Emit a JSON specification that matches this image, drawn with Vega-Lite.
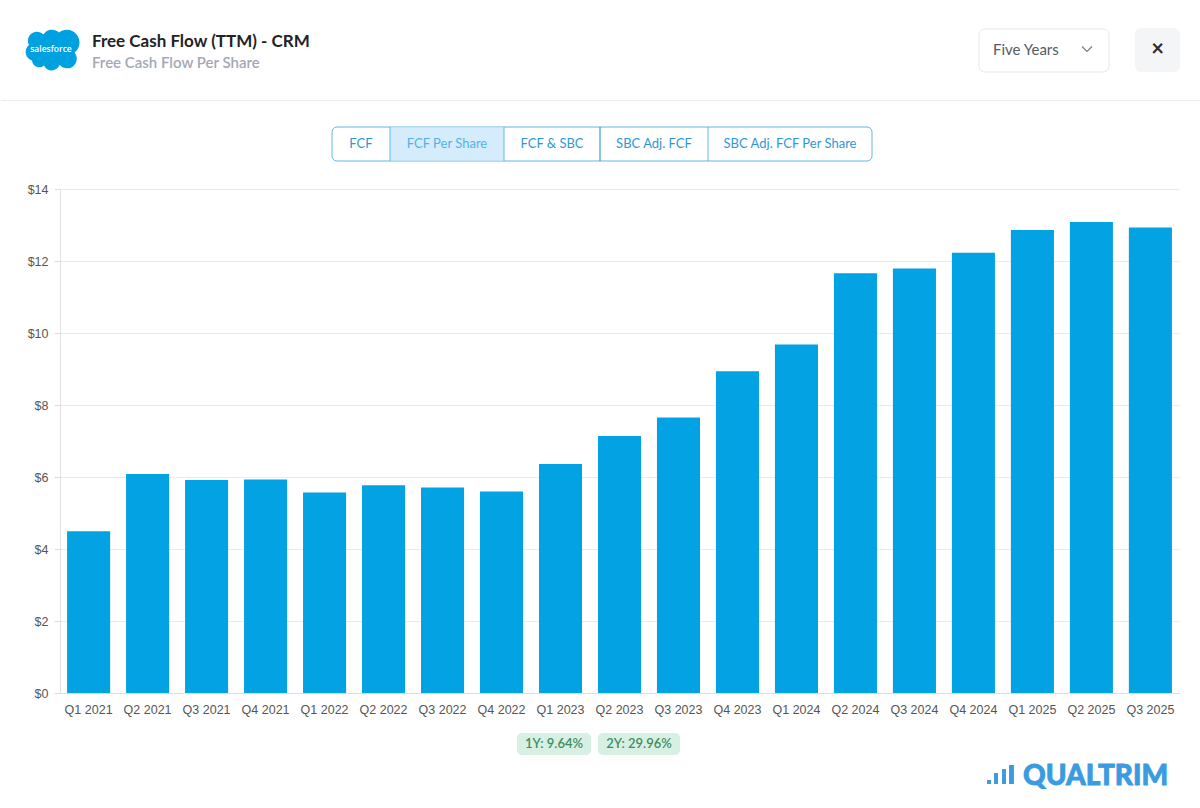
{
  "$schema": "https://vega.github.io/schema/vega-lite/v6.json",
  "width": 1119,
  "height": 504,
  "padding": 0,
  "background": "#ffffff",
  "config": {"view": {"stroke": null}},
  "layer": [
    {
      "data": {"values": [{"id": 1}]},
      "layer": [
        {"mark": {"type": "rect", "fill": "#ffffff", "opacity": 0},
         "encoding": {
           "x": {"datum": 0, "type": "quantitative", "scale": {"domain": [59, 1178], "nice": false, "zero": false}, "axis": null},
           "x2": {"datum": 1200},
           "y": {"datum": 0, "type": "quantitative", "scale": {"domain": [189, 693], "nice": false, "zero": false, "reverse": true}, "axis": null},
           "y2": {"datum": 808}}},
        {"mark": {"type": "rule", "stroke": "#ececec", "strokeWidth": 1},
         "encoding": {
           "x": {"datum": 0, "type": "quantitative", "scale": {"domain": [59, 1178], "nice": false, "zero": false}, "axis": null},
           "x2": {"datum": 1200},
           "y": {"datum": 100.5, "type": "quantitative", "scale": {"domain": [189, 693], "nice": false, "zero": false, "reverse": true}, "axis": null}}},
        {"mark": {"type": "point", "filled": true, "fill": "#00a1e0", "opacity": 1, "strokeWidth": 0, "size": 3600,
                  "shape": "M -0.6 0.42 A 0.3 0.3 0 0 1 -0.7 -0.1 A 0.3 0.3 0 0 1 -0.22 -0.45 A 0.34 0.34 0 0 1 0.3 -0.52 A 0.42 0.42 0 0 1 0.82 0.15 A 0.32 0.32 0 0 1 0.32 0.56 A 0.28 0.28 0 0 1 -0.2 0.58 A 0.24 0.24 0 0 1 -0.6 0.42 Z"},
         "encoding": {
           "x": {"datum": 49, "type": "quantitative", "scale": {"domain": [59, 1178], "nice": false, "zero": false}, "axis": null},
           "y": {"datum": 48, "type": "quantitative", "scale": {"domain": [189, 693], "nice": false, "zero": false, "reverse": true}, "axis": null}}},
        {"mark": {"type": "text", "text": "salesforce", "font": "Open Sans", "fontSize": 8.5, "fontWeight": 600, "fill": "#ffffff", "align": "center", "baseline": "middle"},
         "encoding": {
           "x": {"datum": 50, "type": "quantitative", "scale": {"domain": [59, 1178], "nice": false, "zero": false}, "axis": null},
           "y": {"datum": 49, "type": "quantitative", "scale": {"domain": [189, 693], "nice": false, "zero": false, "reverse": true}, "axis": null}}},
        {"mark": {"type": "text", "text": "Free Cash Flow (TTM) - CRM", "font": "Lato", "fontSize": 17, "fontWeight": "bold", "fill": "#1f2328", "align": "left", "baseline": "middle"},
         "encoding": {
           "x": {"datum": 91, "type": "quantitative", "scale": {"domain": [59, 1178], "nice": false, "zero": false}, "axis": null},
           "y": {"datum": 42, "type": "quantitative", "scale": {"domain": [189, 693], "nice": false, "zero": false, "reverse": true}, "axis": null}}},
        {"mark": {"type": "text", "text": "Free Cash Flow Per Share", "font": "Lato", "fontSize": 15, "fontWeight": 600, "fill": "#a3a9b4", "align": "left", "baseline": "middle"},
         "encoding": {
           "x": {"datum": 91, "type": "quantitative", "scale": {"domain": [59, 1178], "nice": false, "zero": false}, "axis": null},
           "y": {"datum": 63, "type": "quantitative", "scale": {"domain": [189, 693], "nice": false, "zero": false, "reverse": true}, "axis": null}}},
        {"mark": {"type": "rect", "fill": "#ffffff", "stroke": "#e4e7eb", "strokeWidth": 1, "cornerRadius": 6},
         "encoding": {
           "x": {"datum": 978, "type": "quantitative", "scale": {"domain": [59, 1178], "nice": false, "zero": false}, "axis": null},
           "x2": {"datum": 1108},
           "y": {"datum": 29, "type": "quantitative", "scale": {"domain": [189, 693], "nice": false, "zero": false, "reverse": true}, "axis": null},
           "y2": {"datum": 72}}},
        {"mark": {"type": "text", "text": "Five Years", "font": "Lato", "fontSize": 15, "fill": "#555b63", "align": "left", "baseline": "middle"},
         "encoding": {
           "x": {"datum": 992, "type": "quantitative", "scale": {"domain": [59, 1178], "nice": false, "zero": false}, "axis": null},
           "y": {"datum": 50, "type": "quantitative", "scale": {"domain": [189, 693], "nice": false, "zero": false, "reverse": true}, "axis": null}}},
        {"mark": {"type": "point", "filled": false, "stroke": "#7a7f86", "strokeWidth": 1.2, "opacity": 1, "size": 100, "shape": "M -1 -0.5 L 0 0.5 L 1 -0.5"},
         "encoding": {
           "x": {"datum": 1086, "type": "quantitative", "scale": {"domain": [59, 1178], "nice": false, "zero": false}, "axis": null},
           "y": {"datum": 49, "type": "quantitative", "scale": {"domain": [189, 693], "nice": false, "zero": false, "reverse": true}, "axis": null}}},
        {"mark": {"type": "rect", "fill": "#f4f5f7", "cornerRadius": 6},
         "encoding": {
           "x": {"datum": 1134, "type": "quantitative", "scale": {"domain": [59, 1178], "nice": false, "zero": false}, "axis": null},
           "x2": {"datum": 1179},
           "y": {"datum": 28, "type": "quantitative", "scale": {"domain": [189, 693], "nice": false, "zero": false, "reverse": true}, "axis": null},
           "y2": {"datum": 72}}},
        {"mark": {"type": "text", "text": "×", "font": "Lato", "fontSize": 22, "fontWeight": "bold", "fill": "#2a2d31", "align": "center", "baseline": "middle"},
         "encoding": {
           "x": {"datum": 1156.5, "type": "quantitative", "scale": {"domain": [59, 1178], "nice": false, "zero": false}, "axis": null},
           "y": {"datum": 49, "type": "quantitative", "scale": {"domain": [189, 693], "nice": false, "zero": false, "reverse": true}, "axis": null}}},
        {"mark": {"type": "rect", "fill": "#ffffff", "stroke": "#62b6e7", "strokeWidth": 1, "cornerRadius": 5},
         "encoding": {
           "x": {"datum": 331, "type": "quantitative", "scale": {"domain": [59, 1178], "nice": false, "zero": false}, "axis": null},
           "x2": {"datum": 871},
           "y": {"datum": 127, "type": "quantitative", "scale": {"domain": [189, 693], "nice": false, "zero": false, "reverse": true}, "axis": null},
           "y2": {"datum": 161}}},
        {"mark": {"type": "rect", "fill": "#d4ecfb"},
         "encoding": {
           "x": {"datum": 389, "type": "quantitative", "scale": {"domain": [59, 1178], "nice": false, "zero": false}, "axis": null},
           "x2": {"datum": 503},
           "y": {"datum": 127.5, "type": "quantitative", "scale": {"domain": [189, 693], "nice": false, "zero": false, "reverse": true}, "axis": null},
           "y2": {"datum": 160.5}}},
        {"mark": {"type": "rule", "stroke": "#62b6e7", "strokeWidth": 1},
         "encoding": {
           "x": {"datum": 389, "type": "quantitative", "scale": {"domain": [59, 1178], "nice": false, "zero": false}, "axis": null},
           "y": {"datum": 127, "type": "quantitative", "scale": {"domain": [189, 693], "nice": false, "zero": false, "reverse": true}, "axis": null},
           "y2": {"datum": 161}}},
        {"mark": {"type": "rule", "stroke": "#62b6e7", "strokeWidth": 1},
         "encoding": {
           "x": {"datum": 503, "type": "quantitative", "scale": {"domain": [59, 1178], "nice": false, "zero": false}, "axis": null},
           "y": {"datum": 127, "type": "quantitative", "scale": {"domain": [189, 693], "nice": false, "zero": false, "reverse": true}, "axis": null},
           "y2": {"datum": 161}}},
        {"mark": {"type": "rule", "stroke": "#3a9fdc", "strokeWidth": 1.2},
         "encoding": {
           "x": {"datum": 599, "type": "quantitative", "scale": {"domain": [59, 1178], "nice": false, "zero": false}, "axis": null},
           "y": {"datum": 127, "type": "quantitative", "scale": {"domain": [189, 693], "nice": false, "zero": false, "reverse": true}, "axis": null},
           "y2": {"datum": 161}}},
        {"mark": {"type": "rule", "stroke": "#62b6e7", "strokeWidth": 1},
         "encoding": {
           "x": {"datum": 707, "type": "quantitative", "scale": {"domain": [59, 1178], "nice": false, "zero": false}, "axis": null},
           "y": {"datum": 127, "type": "quantitative", "scale": {"domain": [189, 693], "nice": false, "zero": false, "reverse": true}, "axis": null},
           "y2": {"datum": 161}}},
        {"mark": {"type": "text", "text": "FCF", "font": "Lato", "fontSize": 13, "fill": "#2e98d6", "align": "center", "baseline": "middle"},
         "encoding": {
           "x": {"datum": 360, "type": "quantitative", "scale": {"domain": [59, 1178], "nice": false, "zero": false}, "axis": null},
           "y": {"datum": 144, "type": "quantitative", "scale": {"domain": [189, 693], "nice": false, "zero": false, "reverse": true}, "axis": null}}},
        {"mark": {"type": "text", "text": "FCF Per Share", "font": "Lato", "fontSize": 13, "fill": "#55b2e6", "align": "center", "baseline": "middle"},
         "encoding": {
           "x": {"datum": 446, "type": "quantitative", "scale": {"domain": [59, 1178], "nice": false, "zero": false}, "axis": null},
           "y": {"datum": 144, "type": "quantitative", "scale": {"domain": [189, 693], "nice": false, "zero": false, "reverse": true}, "axis": null}}},
        {"mark": {"type": "text", "text": "FCF & SBC", "font": "Lato", "fontSize": 13, "fill": "#2e98d6", "align": "center", "baseline": "middle"},
         "encoding": {
           "x": {"datum": 551, "type": "quantitative", "scale": {"domain": [59, 1178], "nice": false, "zero": false}, "axis": null},
           "y": {"datum": 144, "type": "quantitative", "scale": {"domain": [189, 693], "nice": false, "zero": false, "reverse": true}, "axis": null}}},
        {"mark": {"type": "text", "text": "SBC Adj. FCF", "font": "Lato", "fontSize": 13, "fill": "#2e98d6", "align": "center", "baseline": "middle"},
         "encoding": {
           "x": {"datum": 653, "type": "quantitative", "scale": {"domain": [59, 1178], "nice": false, "zero": false}, "axis": null},
           "y": {"datum": 144, "type": "quantitative", "scale": {"domain": [189, 693], "nice": false, "zero": false, "reverse": true}, "axis": null}}},
        {"mark": {"type": "text", "text": "SBC Adj. FCF Per Share", "font": "Lato", "fontSize": 13, "fill": "#2e98d6", "align": "center", "baseline": "middle"},
         "encoding": {
           "x": {"datum": 789, "type": "quantitative", "scale": {"domain": [59, 1178], "nice": false, "zero": false}, "axis": null},
           "y": {"datum": 144, "type": "quantitative", "scale": {"domain": [189, 693], "nice": false, "zero": false, "reverse": true}, "axis": null}}},
        {"mark": {"type": "rect", "fill": "#d8f0e3", "cornerRadius": 5},
         "encoding": {
           "x": {"datum": 516, "type": "quantitative", "scale": {"domain": [59, 1178], "nice": false, "zero": false}, "axis": null},
           "x2": {"datum": 590},
           "y": {"datum": 733, "type": "quantitative", "scale": {"domain": [189, 693], "nice": false, "zero": false, "reverse": true}, "axis": null},
           "y2": {"datum": 755}}},
        {"mark": {"type": "rect", "fill": "#d8f0e3", "cornerRadius": 5},
         "encoding": {
           "x": {"datum": 597, "type": "quantitative", "scale": {"domain": [59, 1178], "nice": false, "zero": false}, "axis": null},
           "x2": {"datum": 679},
           "y": {"datum": 733, "type": "quantitative", "scale": {"domain": [189, 693], "nice": false, "zero": false, "reverse": true}, "axis": null},
           "y2": {"datum": 755}}},
        {"mark": {"type": "text", "text": "1Y: 9.64%", "font": "Lato", "fontSize": 13, "fontWeight": 600, "fill": "#3d8d60", "align": "center", "baseline": "middle"},
         "encoding": {
           "x": {"datum": 553, "type": "quantitative", "scale": {"domain": [59, 1178], "nice": false, "zero": false}, "axis": null},
           "y": {"datum": 744, "type": "quantitative", "scale": {"domain": [189, 693], "nice": false, "zero": false, "reverse": true}, "axis": null}}},
        {"mark": {"type": "text", "text": "2Y: 29.96%", "font": "Lato", "fontSize": 13, "fontWeight": 600, "fill": "#3d8d60", "align": "center", "baseline": "middle"},
         "encoding": {
           "x": {"datum": 638, "type": "quantitative", "scale": {"domain": [59, 1178], "nice": false, "zero": false}, "axis": null},
           "y": {"datum": 744, "type": "quantitative", "scale": {"domain": [189, 693], "nice": false, "zero": false, "reverse": true}, "axis": null}}},
        {"mark": {"type": "point", "filled": true, "fill": "#3a9be0", "opacity": 1, "strokeWidth": 0, "size": 784,
                  "shape": "M -0.96 0.39 H -0.68 V 0.68 H -0.96 Z M -0.46 -0.11 H -0.18 V 0.68 H -0.46 Z M 0.11 -0.39 H 0.39 V 0.68 H 0.11 Z M 0.61 -0.68 H 0.96 V 0.68 H 0.61 Z"},
         "encoding": {
           "x": {"datum": 999.5, "type": "quantitative", "scale": {"domain": [59, 1178], "nice": false, "zero": false}, "axis": null},
           "y": {"datum": 774.5, "type": "quantitative", "scale": {"domain": [189, 693], "nice": false, "zero": false, "reverse": true}, "axis": null}}},
        {"mark": {"type": "text", "text": "QUALTRIM", "font": "Lato", "fontSize": 28, "fontWeight": 900, "fill": "#3a9be0", "stroke": "#3a9be0", "strokeWidth": 0.8, "align": "left", "baseline": "alphabetic"},
         "encoding": {
           "x": {"datum": 1022, "type": "quantitative", "scale": {"domain": [59, 1178], "nice": false, "zero": false}, "axis": null},
           "y": {"datum": 785, "type": "quantitative", "scale": {"domain": [189, 693], "nice": false, "zero": false, "reverse": true}, "axis": null}}}
      ]
    },
    {
      "data": {"values": [
        {"quarter": "Q1 2021", "fcf_per_share": 4.49},
        {"quarter": "Q2 2021", "fcf_per_share": 6.08},
        {"quarter": "Q3 2021", "fcf_per_share": 5.92},
        {"quarter": "Q4 2021", "fcf_per_share": 5.93},
        {"quarter": "Q1 2022", "fcf_per_share": 5.57},
        {"quarter": "Q2 2022", "fcf_per_share": 5.77},
        {"quarter": "Q3 2022", "fcf_per_share": 5.71},
        {"quarter": "Q4 2022", "fcf_per_share": 5.60},
        {"quarter": "Q1 2023", "fcf_per_share": 6.36},
        {"quarter": "Q2 2023", "fcf_per_share": 7.14},
        {"quarter": "Q3 2023", "fcf_per_share": 7.65},
        {"quarter": "Q4 2023", "fcf_per_share": 8.94},
        {"quarter": "Q1 2024", "fcf_per_share": 9.68},
        {"quarter": "Q2 2024", "fcf_per_share": 11.66},
        {"quarter": "Q3 2024", "fcf_per_share": 11.79},
        {"quarter": "Q4 2024", "fcf_per_share": 12.23},
        {"quarter": "Q1 2025", "fcf_per_share": 12.86},
        {"quarter": "Q2 2025", "fcf_per_share": 13.08},
        {"quarter": "Q3 2025", "fcf_per_share": 12.93}
      ]},
      "mark": {"type": "bar", "color": "#03a2e3"},
      "encoding": {
        "x": {"field": "quarter", "type": "ordinal", "sort": null,
              "scale": {"paddingInner": 0.27, "paddingOuter": 0.12},
              "axis": {"orient": "bottom", "title": null, "labelAngle": 0, "ticks": false, "tickSize": 0, "labelPadding": 10,
                       "labelFont": "Liberation Sans", "labelFontSize": 12.5, "labelColor": "#555555",
                       "domainColor": "#dddddd", "grid": false}},
        "y": {"field": "fcf_per_share", "type": "quantitative",
              "scale": {"domain": [0, 14], "nice": false},
              "axis": {"orient": "left", "title": null, "values": [0, 2, 4, 6, 8, 10, 12, 14], "format": "$.0f",
                       "labelFont": "Liberation Sans", "labelFontSize": 12.5, "labelColor": "#555555",
                       "tickColor": "#dddddd", "tickSize": 6, "labelPadding": 6,
                       "domainColor": "#e2e2e2", "gridColor": "#ebebeb", "grid": true}}
      }
    }
  ],
  "resolve": {"scale": {"x": "independent", "y": "independent"}}
}
